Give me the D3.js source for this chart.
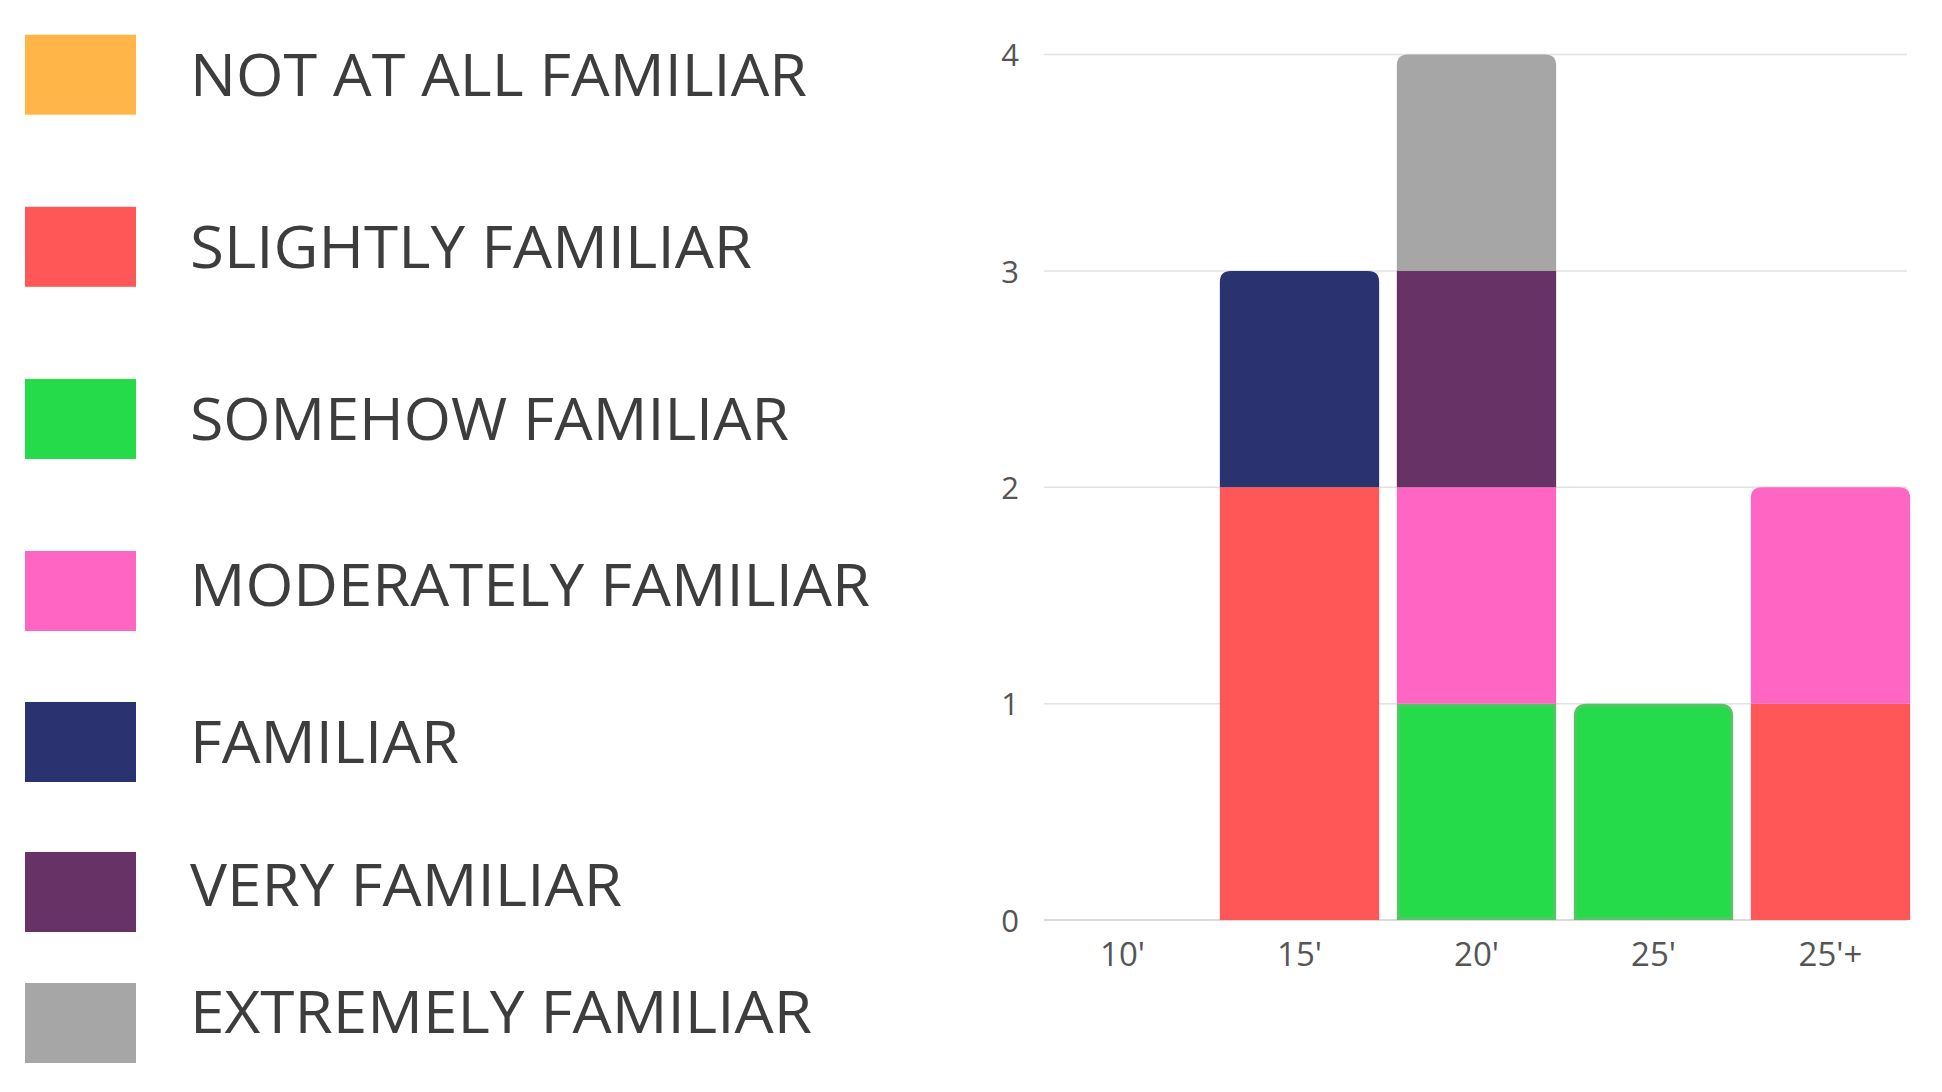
<!DOCTYPE html>
<html>
<head>
<meta charset="utf-8">
<script src="https://cdn.jsdelivr.net/npm/d3@7"></script>
<style>
  html, body { margin: 0; padding: 0; background: #ffffff; }
  svg { display: block; }
</style>
</head>
<body>
<svg id="chart" width="1942" height="1092"></svg>
<script>
// ---------- DATA ----------
const categories = ["10'", "15'", "20'", "25'", "25'+"];
const seriesNames = [
  "NOT AT ALL FAMILIAR",
  "SLIGHTLY FAMILIAR",
  "SOMEHOW FAMILIAR",
  "MODERATELY FAMILIAR",
  "FAMILIAR",
  "VERY FAMILIAR",
  "EXTREMELY FAMILIAR"
];
const notAtAllFamiliar   = [0, 0, 0, 0, 0];
const slightlyFamiliar   = [0, 2, 0, 0, 1];
const somehowFamiliar    = [0, 0, 1, 1, 0];
const moderatelyFamiliar = [0, 0, 1, 0, 1];
const familiar           = [0, 1, 0, 0, 0];
const veryFamiliar       = [0, 0, 1, 0, 0];
const extremelyFamiliar  = [0, 0, 1, 0, 0];
const yTicks = [0, 1, 2, 3, 4];
const seriesColors = ["#FFB547", "#FF5757", "#25DB4A", "#FF66C4", "#2B3270", "#673366", "#A6A6A6"];

// ---------- BUILD TABLE ----------
const seriesValues = [notAtAllFamiliar, slightlyFamiliar, somehowFamiliar, moderatelyFamiliar,
                      familiar, veryFamiliar, extremelyFamiliar];
const table = categories.map((c, i) => {
  const row = { cat: c };
  seriesNames.forEach((s, j) => { row[s] = seriesValues[j][i]; });
  return row;
});
const stacked = d3.stack().keys(seriesNames)(table);

// ---------- LAYOUT ----------
const svg = d3.select("#chart");
const x = d3.scaleBand().domain(categories).range([1034, 1919]).paddingInner(0.1).paddingOuter(0.05);
const y = d3.scaleLinear().domain([0, 4]).range([920, 54.5]);
const color = d3.scaleOrdinal().domain(seriesNames).range(seriesColors);

// gridlines
svg.append("g").selectAll("line").data(yTicks).join("line")
  .attr("x1", 1044).attr("x2", 1907)
  .attr("y1", d => y(d)).attr("y2", d => y(d))
  .attr("stroke", d => d === 0 ? "#cfcfcf" : "#e2e2e2")
  .attr("stroke-width", 1.5);

// y axis labels
const yAxis = d3.axisLeft(y).tickValues(yTicks).tickFormat(d3.format("d")).tickSize(0).tickPadding(0);
const yg = svg.append("g").attr("transform", "translate(1019,0)").call(yAxis);
yg.select(".domain").remove();
yg.selectAll("text").attr("font-family", "'Open Sans', sans-serif").attr("font-size", 31)
  .attr("font-weight", 400)
  .attr("fill", "#555").attr("dy", "0.36em");

// x axis labels
const xAxis = d3.axisBottom(x).tickSize(0).tickPadding(0);
const xg = svg.append("g").attr("transform", "translate(0,942)").call(xAxis);
xg.select(".domain").remove();
xg.selectAll("text").attr("font-family", "'Open Sans', sans-serif").attr("font-size", 33)
  .attr("font-weight", 400)
  .attr("fill", "#555").attr("dy", "0.72em");

// find top segment index for each category
const topIndex = categories.map((c, i) => {
  let t = -1;
  stacked.forEach((s, j) => { if (s[i][1] - s[i][0] > 0) t = j; });
  return t;
});

function segPath(x0, w, yTop, yBot, r) {
  r = Math.min(r, (yBot - yTop) / 2, w / 2);
  return `M${x0},${yBot} L${x0},${yTop + r} Q${x0},${yTop} ${x0 + r},${yTop} ` +
         `L${x0 + w - r},${yTop} Q${x0 + w},${yTop} ${x0 + w},${yTop + r} L${x0 + w},${yBot} Z`;
}

// bars
const bars = svg.append("g");
stacked.forEach((s, j) => {
  const isGreen = seriesNames[j] === "SOMEHOW FAMILIAR";
  bars.append("g").selectAll("path")
    .data(s.map((d, i) => ({ d, i })).filter(o => o.d[1] - o.d[0] > 0))
    .join("path")
    .attr("d", o => isGreen
      ? segPath(x(categories[o.i]) + 1.5, x.bandwidth() - 3, y(o.d[1]) + 1.5, y(o.d[0]) - 1.5,
                topIndex[o.i] === j ? 11 : 0)
      : segPath(x(categories[o.i]), x.bandwidth(), y(o.d[1]), y(o.d[0]),
                topIndex[o.i] === j ? 11 : 0))
    .attr("fill", color(seriesNames[j]))
    .attr("stroke", isGreen ? "#52c565" : "none")
    .attr("stroke-width", 3);
});

// ---------- LEGEND ----------
const swatchTops = [34.7, 206.8, 379, 551, 702, 852, 983];
const labelCenters = [74.3, 246.5, 418.6, 584.6, 741.9, 884.3, 1011.9];
const labelWidths = [617, 562, 599, 680, 269, 432, 622];
const legend = svg.append("g");
legend.selectAll("rect").data(seriesNames).join("rect")
  .attr("x", 25).attr("y", (d, i) => swatchTops[i])
  .attr("width", 111).attr("height", 80)
  .attr("fill", d => color(d));
legend.selectAll("text").data(seriesNames).join("text")
  .attr("x", 190).attr("y", (d, i) => labelCenters[i])
  .attr("dy", "0.36em")
  .attr("font-family", "'Open Sans', sans-serif")
  .attr("font-size", 59)
  .attr("font-weight", 400)
  .attr("fill", "#3d3d3d")
  .attr("textLength", (d, i) => labelWidths[i])
  .attr("lengthAdjust", "spacingAndGlyphs")
  .text(d => d);
</script>
</body>
</html>
